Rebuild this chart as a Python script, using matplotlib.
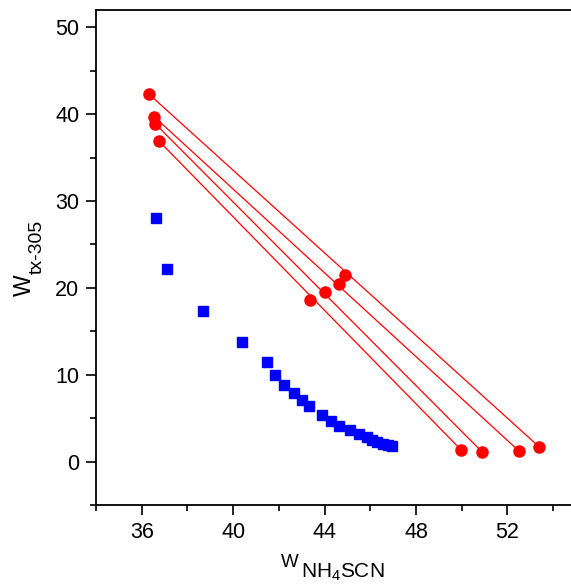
import matplotlib
matplotlib.use("Agg")
import matplotlib.pyplot as plt
from matplotlib.ticker import MultipleLocator

plt.rcParams['font.family'] = ['Liberation Sans', 'DejaVu Sans']
plt.rcParams['mathtext.fontset'] = 'custom'
plt.rcParams['mathtext.rm'] = 'Liberation Sans'
plt.rcParams['mathtext.it'] = 'Liberation Sans'

# Binodal curve (blue squares)
binodal_x = [36.61, 37.11, 38.68, 40.37, 41.48, 41.83, 42.24, 42.67, 43.01, 43.30,
             43.89, 44.29, 44.62, 45.12, 45.52, 45.84, 46.07, 46.31, 46.54, 46.76, 46.97]
binodal_y = [28.08, 22.15, 17.34, 13.81, 11.47, 10.01, 8.86, 7.87, 7.07, 6.45,
             5.41, 4.68, 4.07, 3.61, 3.22, 2.84, 2.53, 2.30, 2.07, 1.89, 1.75]

# Tie lines: top phase, mixture, bottom phase
top_x = [36.33, 36.55, 36.59, 36.76]
top_y = [42.28, 39.70, 38.90, 36.90]
mid_x = [44.91, 44.62, 44.00, 43.35]
mid_y = [21.45, 20.41, 19.55, 18.60]
bot_x = [53.39, 52.50, 50.89, 49.97]
bot_y = [1.69, 1.23, 1.12, 1.35]

W, H = 571, 587
fig = plt.figure(figsize=(W / 100, H / 100), dpi=100)
ax = fig.add_axes([96 / W, 82 / H, 480 / W, 495 / H])

for i in range(len(top_x)):
    ax.plot([top_x[i], bot_x[i]], [top_y[i], bot_y[i]], color='red', lw=0.9, zorder=2)
    ax.plot([top_x[i], mid_x[i], bot_x[i]], [top_y[i], mid_y[i], bot_y[i]],
            ls='none', marker='o', ms=8, color='red', mec='red', zorder=3)

ax.plot(binodal_x, binodal_y, ls='none', marker='s', ms=7, color='blue', mec='blue', zorder=3)

ax.set_xlim(34, 55)
ax.set_ylim(-5, 52)
ax.xaxis.set_minor_locator(MultipleLocator(2))
ax.yaxis.set_minor_locator(MultipleLocator(5))
ax.set_xticks([36, 40, 44, 48, 52])
ax.set_yticks([0, 10, 20, 30, 40, 50])

ax.tick_params(which='major', direction='out', length=7, width=1.2, labelsize=15.5, pad=5)
ax.tick_params(which='minor', direction='out', length=4, width=1.2)
ax.tick_params(top=False, right=False, which='both')
for s in ['left', 'bottom', 'top']:
    ax.spines[s].set_linewidth(1.3)
ax.spines['right'].set_visible(False)

# x-axis title: W_{NH4SCN}
fig.text(281 / W, (H - 567) / H, 'W', fontsize=13.5, ha='left', va='baseline')
fig.text(301 / W, (H - 578) / H, r'$\mathregular{NH_4SCN}$', fontsize=15, ha='left', va='baseline')

# y-axis title: W_{tx-305} (rotated)
fig.text(31 / W, (H - 296) / H, 'W', fontsize=16.5, rotation=90, rotation_mode='anchor',
         ha='left', va='baseline')
fig.text(42 / W, (H - 274) / H, 'tx-305', fontsize=14, rotation=90, rotation_mode='anchor',
         ha='left', va='baseline')

fig.savefig('out.png', dpi=100)
